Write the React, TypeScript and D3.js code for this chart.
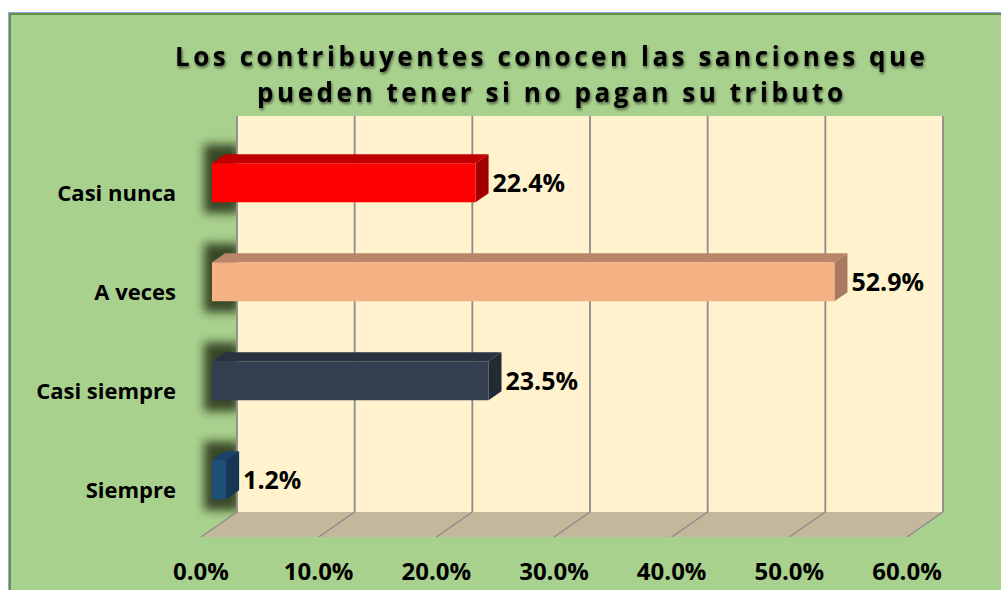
import React from "react";
import * as d3 from "d3";

const categories = ["Casi nunca", "A veces", "Casi siempre", "Siempre"];
const values = [22.4, 52.9, 23.5, 1.2];
const frontColors = ["#FF0000", "#F4B183", "#333F50", "#1F4E79"];
const topColors = ["#C00000", "#B98669", "#29333F", "#1A4268"];
const sideColors = ["#A20000", "#A97A60", "#222A35", "#163656"];
const ticks = [0, 10, 20, 30, 40, 50, 60];
const titleLines = [
  "Los contribuyentes conocen las sanciones que",
  "pueden tener si no pagan su tributo",
];

const W = 1001;
const H = 590;
const FONT = "'Open Sans', 'Noto Sans', sans-serif";

// back wall geometry
const WALL_X0 = 237;
const WALL_X1 = 943;
const WALL_Y0 = 116;
const WALL_Y1 = 512;
const DEPTH_DX = -36;
const DEPTH_DY = 25;
const F_BACK = 12 / 36;
const F_FRONT = 25 / 36;

const x = d3.scaleLinear().domain([0, 60]).range([WALL_X0, WALL_X1]);
const y = d3
  .scaleBand<string>()
  .domain(categories)
  .range([WALL_Y0, WALL_Y1])
  .paddingInner(0.606)
  .paddingOuter(0.303);

const P = (px: number, py: number, f: number): [number, number] => [
  px + DEPTH_DX * f,
  py + DEPTH_DY * f,
];
const pts = (arr: [number, number][]) => arr.map((p) => p.join(",")).join(" ");
const fmt = (v: number) => d3.format(".1f")(v) + "%";

export default function App() {
  const bw = y.bandwidth();
  return (
    <svg
      width={W}
      height={H}
      style={{ position: "absolute", left: 0, top: 0, background: "#fff" }}
    >
      <defs>
        <filter id="shadowBlur" x="-50%" y="-50%" width="200%" height="200%">
          <feGaussianBlur stdDeviation="5" />
        </filter>
        <filter id="titleShadow" x="-5%" y="-30%" width="110%" height="160%">
          <feDropShadow dx="1" dy="2" stdDeviation="1.5" floodColor="#000" floodOpacity="0.55" />
        </filter>
      </defs>
      {/* frame */}
      <rect x={8.5} y={12.5} width={W} height={H} fill="#A9D18E" stroke="#8EA9DB" strokeWidth={1} />
      <rect x={10} y={14} width={W} height={H} fill="none" stroke="#4F7A33" strokeWidth={1.5} />

      {/* title */}
      <g filter="url(#titleShadow)">
        <text
          x={175}
          y={66}
          textLength={750}
          lengthAdjust="spacing"
          fontFamily={FONT}
          fontWeight={700}
          fontSize={26}
          fill="#000"
        >
          {titleLines[0]}
        </text>
        <text
          x={257}
          y={102}
          textLength={586}
          lengthAdjust="spacing"
          fontFamily={FONT}
          fontWeight={700}
          fontSize={26}
          fill="#000"
        >
          {titleLines[1]}
        </text>
      </g>

      {/* bar shadows on side wall */}
      {categories.map((c, i) => {
        const t = y(c)!;
        return (
          <rect
            key={"sh" + i}
            x={204}
            y={t + DEPTH_DY * F_BACK - 10}
            width={35}
            height={bw + 30}
            fill="#1A2610"
            opacity={0.8}
            filter="url(#shadowBlur)"
          />
        );
      })}

      {/* back wall */}
      <rect x={WALL_X0} y={WALL_Y0} width={WALL_X1 - WALL_X0} height={WALL_Y1 - WALL_Y0} fill="#FFF2CC" />
      {ticks.map((t) => (
        <line
          key={"g" + t}
          x1={x(t)}
          x2={x(t)}
          y1={WALL_Y0}
          y2={WALL_Y1}
          stroke="#8C8C8C"
          strokeWidth={1.8}
        />
      ))}

      {/* floor */}
      <polygon
        points={pts([
          P(x(0), WALL_Y1, 0),
          P(x(60), WALL_Y1, 0),
          P(x(60), WALL_Y1, 1),
          P(x(0), WALL_Y1, 1),
        ])}
        fill="#C3B89B"
      />
      {ticks.map((t) => {
        const a = P(x(t), WALL_Y1, 0);
        const b = P(x(t), WALL_Y1, 1);
        return (
          <line key={"f" + t} x1={a[0]} y1={a[1]} x2={b[0]} y2={b[1]} stroke="#8C8C8C" strokeWidth={1.5} />
        );
      })}

      {/* bars */}
      {categories.map((c, i) => {
        const t = y(c)!;
        const b = t + bw;
        const x0 = x(0);
        const xv = x(values[i]);
        const front = [P(x0, t, F_FRONT), P(xv, t, F_FRONT), P(xv, b, F_FRONT), P(x0, b, F_FRONT)];
        const top = [P(x0, t, F_BACK), P(xv, t, F_BACK), P(xv, t, F_FRONT), P(x0, t, F_FRONT)];
        const side = [P(xv, t, F_BACK), P(xv, t, F_FRONT), P(xv, b, F_FRONT), P(xv, b, F_BACK)];
        const labelX = P(xv, t, F_BACK)[0] + 4;
        const labelY = (front[0][1] + front[2][1]) / 2;
        return (
          <g key={"b" + i}>
            <polygon points={pts(top)} fill={topColors[i]} />
            <polygon points={pts(side)} fill={sideColors[i]} />
            <polygon points={pts(front)} fill={frontColors[i]} />
            <text
              x={labelX}
              y={labelY}
              dy="0.36em"
              fontFamily={FONT}
              fontWeight={700}
              fontSize={25}
              fill="#000"
            >
              {fmt(values[i])}
            </text>
            <text
              x={176}
              y={labelY + 10.5}
              dy="0.36em"
              textAnchor="end"
              fontFamily={FONT}
              fontWeight={700}
              fontSize={22}
              fill="#000"
            >
              {c}
            </text>
          </g>
        );
      })}

      {/* x axis tick labels */}
      {ticks.map((t) => {
        const p = P(x(t), WALL_Y1, 1);
        return (
          <text
            key={"t" + t}
            x={p[0]}
            y={580}
            textAnchor="middle"
            fontFamily={FONT}
            fontWeight={700}
            fontSize={24}
            fill="#000"
          >
            {d3.format(".1f")(t) + "%"}
          </text>
        );
      })}
    </svg>
  );
}
